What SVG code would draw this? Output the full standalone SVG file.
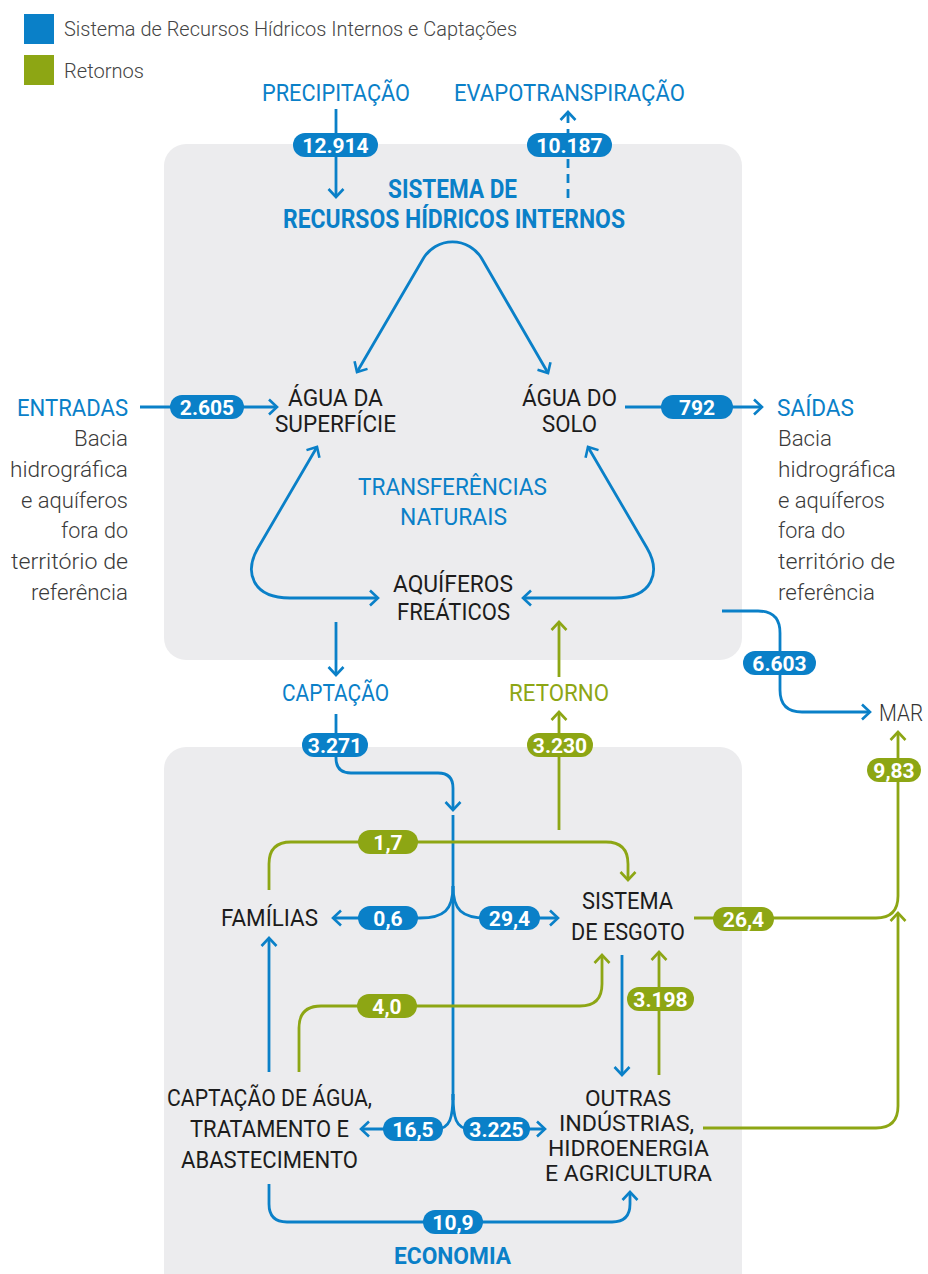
<svg xmlns="http://www.w3.org/2000/svg" width="928" height="1274" viewBox="0 0 928 1274">
<defs>
<style>
.bl{fill:none;stroke:#0A80C8;stroke-width:2.8}
.gr{fill:none;stroke:#8DA614;stroke-width:2.8}
.mb{marker-end:url(#ab)}
.mg{marker-end:url(#ag)}
.ms{marker-start:url(#ab)}
.lab{font-family:Roboto,"Liberation Sans",sans-serif;font-size:24px;fill:#1c1c1c;text-anchor:middle}
.lab2{font-family:Roboto,"Liberation Sans",sans-serif;font-size:22.5px;fill:#1c1c1c;text-anchor:middle}
.blt{font-family:Roboto,"Liberation Sans",sans-serif;font-size:23.5px;fill:#0A80C8;text-anchor:middle}
.grt{font-family:Roboto,"Liberation Sans",sans-serif;font-size:23.5px;fill:#8DA614;text-anchor:middle}
.ttl{font-family:Roboto,"Liberation Sans",sans-serif;font-size:25px;font-weight:bold;fill:#0A80C8;text-anchor:middle}
.side{font-family:Roboto,"Liberation Sans",sans-serif;font-size:22px;font-weight:300;fill:#3a3a3a}
.leg{font-family:Roboto,"Liberation Sans",sans-serif;font-size:21px;font-weight:300;fill:#444}
.bn{font-family:Roboto,"Liberation Sans",sans-serif;font-size:21px;font-weight:bold;fill:#fff;text-anchor:middle}
.bb{fill:#0A80C8}
.bg{fill:#8DA614}
</style>
<marker id="ab" viewBox="-10 -10 20 20" markerWidth="20" markerHeight="20" markerUnits="userSpaceOnUse" orient="auto-start-reverse" refX="0" refY="0"><path d="M-8,-7.5 L0,0 L-8,7.5" fill="none" stroke="#0A80C8" stroke-width="2.6"/></marker>
<marker id="ag" viewBox="-10 -10 20 20" markerWidth="20" markerHeight="20" markerUnits="userSpaceOnUse" orient="auto-start-reverse" refX="0" refY="0"><path d="M-8,-7.5 L0,0 L-8,7.5" fill="none" stroke="#8DA614" stroke-width="2.6"/></marker>
</defs>
<rect width="928" height="1274" fill="#fff"/>
<g id="panels">
<rect x="164" y="144" width="578" height="516" rx="22" fill="#ECECEE"/>
<rect x="164" y="747" width="578" height="560" rx="22" fill="#ECECEE"/>
</g>
<g id="legend">
<rect x="24" y="14" width="30" height="30" fill="#0A80C8"/>
<rect x="24" y="55" width="30" height="30" fill="#8DA614"/>
<text class="leg" x="64" y="36" textLength="453" lengthAdjust="spacingAndGlyphs">Sistema de Recursos Hídricos Internos e Captações</text>
<text class="leg" x="64" y="78" textLength="80" lengthAdjust="spacingAndGlyphs">Retornos</text>
</g>
<g id="connectors">
<path class="bl mb" d="M336 109 V197"/>
<path class="bl mb" d="M568 198 V112" stroke-dasharray="9 6"/>
<path class="bl ms mb" d="M357 372 L423 259 A34 34 0 0 1 482 259 L548 373"/>
<path class="bl ms mb" d="M317 447 L258 548 C244 572 252 598 290 598 L378 598"/>
<path class="bl ms mb" d="M588 447 L647 548 C661 572 653 598 615 598 L523 598"/>
<path class="bl mb" d="M140 407 H277"/>
<path class="bl mb" d="M625 407 H762"/>
<path class="bl mb" d="M336 622 V675"/>
<path class="bl mb" d="M336 714 V758 Q336 773 351 773 H438 Q453 773 453 788 V810"/>
<path class="bl" d="M453 815 V1100"/>
<path class="bl mb" d="M453 886 C453 910 444 918 420 918 H333"/>
<path class="bl mb" d="M453 886 C453 910 462 918 486 918 H558"/>
<path class="bl mb" d="M453 1094 C453 1118 450 1129 436 1129 H361"/>
<path class="bl mb" d="M453 1094 C453 1118 456 1129 470 1129 H545"/>
<path class="gr mg" d="M559 677 V622"/>
<path class="gr mg" d="M559 830 V712"/>
<path class="bl mb" d="M722 611 H758 Q780 611 780 633 V690 Q780 712 802 712 H870"/>
<path class="gr mg" d="M269 890 V864 Q269 842 291 842 H606 Q628 842 628 864 V880"/>
<path class="gr mg" d="M694 918 H876 Q898 918 898 896 V732"/>
<path class="gr mg" d="M703 1128 H876 Q898 1128 898 1106 V913"/>
<path class="bl mb" d="M269 1072 V938"/>
<path class="gr mg" d="M299 1072 V1028 Q299 1006 321 1006 H580 Q602 1006 602 984 V955"/>
<path class="bl mb" d="M622 955 V1075"/>
<path class="gr mg" d="M659 1075 V952"/>
<path class="bl mb" d="M269 1184 V1204 Q269 1222 287 1222 H612 Q630 1222 630 1204 V1192"/>
</g>
<g id="badges">
<g id="b12914"><rect class="bb" x="293" y="133" width="85" height="24" rx="12"/><text class="bn" x="335.5" y="152.5">12.914</text></g>
<g id="b10187"><rect class="bb" x="527" y="133" width="85" height="24" rx="12"/><text class="bn" x="569.5" y="152.5">10.187</text></g>
<g id="b2605"><rect class="bb" x="170" y="395" width="74" height="24" rx="12"/><text class="bn" x="207" y="414.5">2.605</text></g>
<g id="b792"><rect class="bb" x="661" y="395" width="72" height="24" rx="12"/><text class="bn" x="697" y="414.5">792</text></g>
<g id="b6603"><rect class="bb" x="743" y="651" width="73" height="24" rx="12"/><text class="bn" x="779.5" y="670.5">6.603</text></g>
<g id="b3271"><rect class="bb" x="302" y="733" width="66" height="24" rx="12"/><text class="bn" x="335" y="752.5">3.271</text></g>
<g id="b3230"><rect class="bg" x="527" y="733" width="66" height="24" rx="12"/><text class="bn" x="560" y="752.5">3.230</text></g>
<g id="b983"><rect class="bg" x="867" y="758" width="54" height="24" rx="12"/><text class="bn" x="894" y="777.5">9,83</text></g>
<g id="b17"><rect class="bg" x="358" y="830" width="60" height="24" rx="12"/><text class="bn" x="388" y="849.5">1,7</text></g>
<g id="b06"><rect class="bb" x="358" y="906" width="60" height="24" rx="12"/><text class="bn" x="388" y="925.5">0,6</text></g>
<g id="b294"><rect class="bb" x="479" y="906" width="61" height="24" rx="12"/><text class="bn" x="509.5" y="925.5">29,4</text></g>
<g id="b264"><rect class="bg" x="713" y="907" width="61" height="24" rx="12"/><text class="bn" x="743.5" y="926.5">26,4</text></g>
<g id="b40"><rect class="bg" x="357" y="994" width="60" height="24" rx="12"/><text class="bn" x="387" y="1013.5">4,0</text></g>
<g id="b3198"><rect class="bg" x="627" y="987" width="67" height="24" rx="12"/><text class="bn" x="660.5" y="1006.5">3.198</text></g>
<g id="b165"><rect class="bb" x="383" y="1117" width="60" height="24" rx="12"/><text class="bn" x="413" y="1136.5">16,5</text></g>
<g id="b3225"><rect class="bb" x="463" y="1117" width="67" height="24" rx="12"/><text class="bn" x="496.5" y="1136.5">3.225</text></g>
<g id="b109"><rect class="bb" x="423" y="1210" width="60" height="24" rx="12"/><text class="bn" x="453" y="1229.5">10,9</text></g>
</g>
<g id="precipitacao"><text class="blt" x="336" y="101" textLength="148" lengthAdjust="spacingAndGlyphs">PRECIPITAÇÃO</text></g>
<g id="evapotranspiracao"><text class="blt" x="569.5" y="101" textLength="231" lengthAdjust="spacingAndGlyphs">EVAPOTRANSPIRAÇÃO</text></g>
<g id="sistema-rhi">
<text class="ttl" x="452.5" y="198" textLength="129" lengthAdjust="spacingAndGlyphs">SISTEMA DE</text>
<text class="ttl" x="454" y="228" textLength="342" lengthAdjust="spacingAndGlyphs">RECURSOS HÍDRICOS INTERNOS</text>
</g>
<g id="entradas">
<text class="blt" x="128" y="416" style="text-anchor:end" textLength="111" lengthAdjust="spacingAndGlyphs">ENTRADAS</text>
<text class="side" x="128" y="446" text-anchor="end" textLength="54" lengthAdjust="spacingAndGlyphs">Bacia</text>
<text class="side" x="128" y="477" text-anchor="end" textLength="118" lengthAdjust="spacingAndGlyphs">hidrográfica</text>
<text class="side" x="128" y="508" text-anchor="end" textLength="107" lengthAdjust="spacingAndGlyphs">e aquíferos</text>
<text class="side" x="128" y="538" text-anchor="end" textLength="67" lengthAdjust="spacingAndGlyphs">fora do</text>
<text class="side" x="128" y="569" text-anchor="end" textLength="117" lengthAdjust="spacingAndGlyphs">território de</text>
<text class="side" x="128" y="600" text-anchor="end" textLength="97" lengthAdjust="spacingAndGlyphs">referência</text>
</g>
<g id="saidas">
<text class="blt" x="777" y="416" style="text-anchor:start" textLength="77" lengthAdjust="spacingAndGlyphs">SAÍDAS</text>
<text class="side" x="778" y="446" textLength="54" lengthAdjust="spacingAndGlyphs">Bacia</text>
<text class="side" x="778" y="477" textLength="118" lengthAdjust="spacingAndGlyphs">hidrográfica</text>
<text class="side" x="778" y="508" textLength="107" lengthAdjust="spacingAndGlyphs">e aquíferos</text>
<text class="side" x="778" y="538" textLength="67" lengthAdjust="spacingAndGlyphs">fora do</text>
<text class="side" x="778" y="569" textLength="117" lengthAdjust="spacingAndGlyphs">território de</text>
<text class="side" x="778" y="600" textLength="97" lengthAdjust="spacingAndGlyphs">referência</text>
</g>
<g id="agua-superficie">
<text class="lab" x="335.5" y="406" textLength="95" lengthAdjust="spacingAndGlyphs">ÁGUA DA</text>
<text class="lab" x="335.5" y="432" textLength="121" lengthAdjust="spacingAndGlyphs">SUPERFÍCIE</text>
</g>
<g id="agua-solo">
<text class="lab" x="569.5" y="406" textLength="95" lengthAdjust="spacingAndGlyphs">ÁGUA DO</text>
<text class="lab" x="569.5" y="432" textLength="55" lengthAdjust="spacingAndGlyphs">SOLO</text>
</g>
<g id="transferencias">
<text class="blt" x="452.5" y="495" textLength="189" lengthAdjust="spacingAndGlyphs">TRANSFERÊNCIAS</text>
<text class="blt" x="453.5" y="525" textLength="107" lengthAdjust="spacingAndGlyphs">NATURAIS</text>
</g>
<g id="aquiferos">
<text class="lab" x="453" y="592" textLength="120" lengthAdjust="spacingAndGlyphs">AQUÍFEROS</text>
<text class="lab" x="453.5" y="620" textLength="113" lengthAdjust="spacingAndGlyphs">FREÁTICOS</text>
</g>
<g id="captacao"><text class="blt" x="335.5" y="701" textLength="107" lengthAdjust="spacingAndGlyphs">CAPTAÇÃO</text></g>
<g id="retorno"><text class="grt" x="559" y="701" textLength="100" lengthAdjust="spacingAndGlyphs">RETORNO</text></g>
<g id="mar"><text class="lab" x="901" y="721" style="font-weight:300;fill:#333" textLength="44" lengthAdjust="spacingAndGlyphs">MAR</text></g>
<g id="familias"><text class="lab" x="269.5" y="926" textLength="97" lengthAdjust="spacingAndGlyphs">FAMÍLIAS</text></g>
<g id="sistema-esgoto">
<text class="lab" x="627.5" y="909" textLength="91" lengthAdjust="spacingAndGlyphs">SISTEMA</text>
<text class="lab" x="628" y="940" textLength="114" lengthAdjust="spacingAndGlyphs">DE ESGOTO</text>
</g>
<g id="captacao-agua">
<text class="lab" x="269.5" y="1106" textLength="205" lengthAdjust="spacingAndGlyphs">CAPTAÇÃO DE ÁGUA,</text>
<text class="lab" x="269.5" y="1137" textLength="159" lengthAdjust="spacingAndGlyphs">TRATAMENTO E</text>
<text class="lab" x="269.5" y="1168" textLength="177" lengthAdjust="spacingAndGlyphs">ABASTECIMENTO</text>
</g>
<g id="outras-industrias">
<text class="lab2" x="628" y="1106" textLength="86" lengthAdjust="spacingAndGlyphs">OUTRAS</text>
<text class="lab2" x="626.5" y="1131" textLength="135" lengthAdjust="spacingAndGlyphs">INDÚSTRIAS,</text>
<text class="lab2" x="628.5" y="1156" textLength="161" lengthAdjust="spacingAndGlyphs">HIDROENERGIA</text>
<text class="lab2" x="628.5" y="1181" textLength="167" lengthAdjust="spacingAndGlyphs">E AGRICULTURA</text>
</g>
<g id="economia"><text class="ttl" x="452.5" y="1264" style="font-size:24px" textLength="117" lengthAdjust="spacingAndGlyphs">ECONOMIA</text></g>
</svg>
